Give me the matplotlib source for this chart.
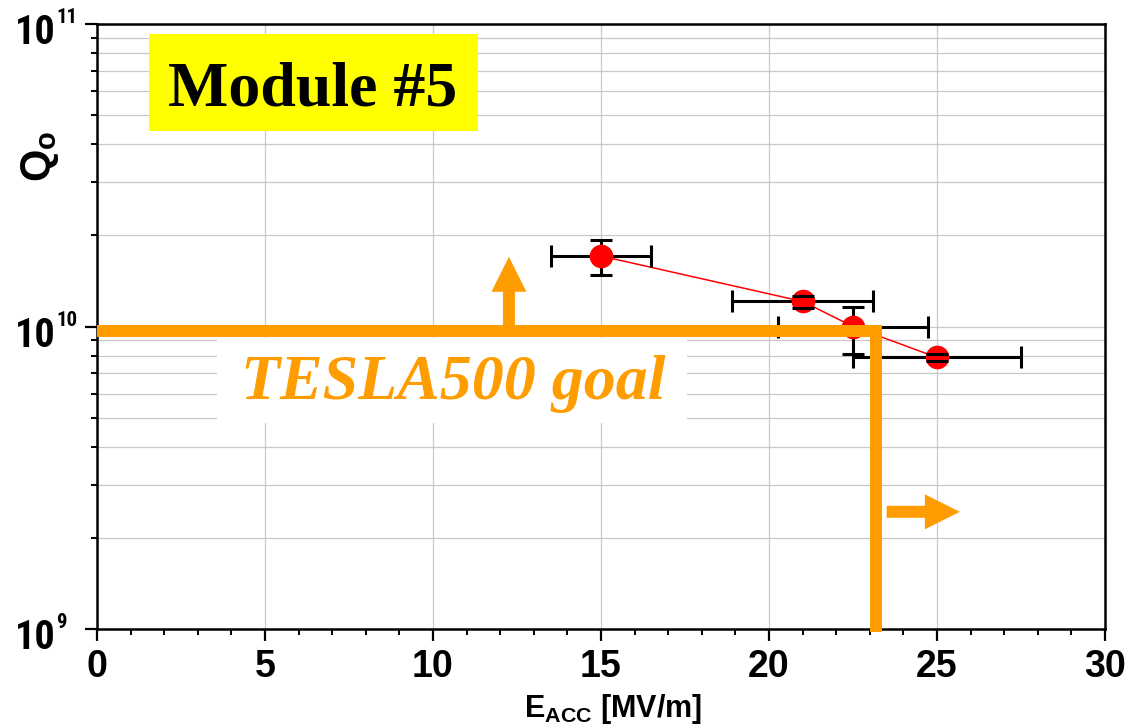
import matplotlib
matplotlib.use("Agg")
import matplotlib.pyplot as plt
from matplotlib import font_manager
from matplotlib.ticker import LogLocator, MultipleLocator, NullFormatter, FixedLocator
from matplotlib.patches import Rectangle
from matplotlib.lines import Line2D

# ---------------- data ----------------
E_acc = [15.0, 21.0, 22.5, 25.0]
Q0 = [1.71e10, 1.21e10, 1.00e10, 7.9e9]
E_err = [1.5, 2.1, 2.23, 2.5]
Q_err_low = [0.23e10, 0.06e10, 0.19e10, 0.02e10]
Q_err_high = [0.22e10, 0.05e10, 0.16e10, 0.02e10]

goal_Q = 9.65e9          # TESLA500 goal line
goal_E = 23.18           # gradient goal line
up_arrow_E = 12.26
up_arrow_Q = [1.0e10, 1.70e10]
right_arrow_E = [23.5, 25.68]
right_arrow_Q = 2.44e9

x_ticks = [0, 5, 10, 15, 20, 25, 30]
y_decades = [1e9, 1e10, 1e11]
y_exponents = ["9", "10", "11"]

ORANGE = "#FF9C00"

names = {f.name for f in font_manager.fontManager.ttflist}
NARROW = "Liberation Sans"
for cand in ["Liberation Sans Narrow", "Arial Narrow", "Roboto Condensed"]:
    if cand in names:
        NARROW = cand
        break
SANS = "Liberation Sans"
plt.rcParams["font.family"] = [SANS, "DejaVu Sans"]
plt.rcParams["mathtext.fontset"] = "custom"
plt.rcParams["mathtext.rm"] = SANS + ":bold"
plt.rcParams["mathtext.bf"] = SANS + ":bold"

fig = plt.figure(figsize=(11.31, 7.26), dpi=100)
ax = fig.add_axes([97 / 1131, 97 / 726, 1008 / 1131, 605 / 726])

ax.set_xlim(0, 30)
ax.set_yscale("log")
ax.set_ylim(1e9, 1e11)

# ticks
ax.xaxis.set_major_locator(FixedLocator(x_ticks))
ax.xaxis.set_minor_locator(MultipleLocator(1))
ax.yaxis.set_major_locator(LogLocator(base=10))
ax.yaxis.set_minor_locator(LogLocator(base=10, subs=range(2, 10)))
ax.yaxis.set_major_formatter(NullFormatter())
ax.yaxis.set_minor_formatter(NullFormatter())
ax.tick_params(axis="both", which="major", direction="out", length=8.6, width=1.6)
ax.tick_params(axis="both", which="minor", direction="out", length=4.3, width=1.4)
ax.tick_params(axis="x", which="major", labelsize=27, pad=6)
ax.set_xticklabels([str(t) for t in x_ticks], fontweight="bold")
for s in ax.spines.values():
    s.set_linewidth(1.8)

# grid
ax.set_axisbelow(True)
ax.xaxis.grid(True, which="major", color="#c8c8c8", linewidth=0.9)
ax.yaxis.grid(True, which="both", color="#c8c8c8", linewidth=0.9)

# y tick labels 10^n
ytr = ax.get_yaxis_transform()
for v, e in zip(y_decades, y_exponents):
    ax.annotate("10", xy=(0, v), xycoords=ytr, xytext=(-30, -6.5), textcoords="offset points",
                ha="right", va="center", fontsize=29, fontweight="bold", family=[NARROW],
                annotation_clip=False)
    ax.annotate(e, xy=(0, v), xycoords=ytr, xytext=(-29.5, 4.5), textcoords="offset points",
                ha="left", va="center", fontsize=15, fontweight="bold", family=[NARROW],
                annotation_clip=False)

# axis labels
ax.text(0.512, -0.145, r"E$_{\mathbf{ACC}}$ [MV/m]", transform=ax.transAxes, ha="center",
        va="baseline", fontsize=22, fontweight="bold")
ax.text(-0.057, 0.781, r"Q$_{\mathbf{o}}$", transform=ax.transAxes, ha="center", va="center",
        rotation=90, fontsize=30, fontweight="bold")

# data
eb = ax.errorbar(E_acc, Q0, xerr=E_err, yerr=[Q_err_low, Q_err_high], fmt="none",
                 ecolor="black", elinewidth=2.2, capsize=8, capthick=2.2, zorder=3)
for cap in eb[1]:
    cap.set_zorder(5)
ax.plot(E_acc, Q0, color="red", linewidth=1.1, marker="o", markersize=16,
        markerfacecolor="red", markeredgecolor="red", zorder=4)

# goal lines
goal = Line2D([0, goal_E, goal_E], [goal_Q, goal_Q, 0.978e9], color=ORANGE, linewidth=8.6,
              solid_joinstyle="miter", solid_capstyle="butt", zorder=6, clip_on=False)
ax.add_line(goal)

arrow_style = "simple,head_length=1.4,head_width=1.4,tail_width=0.48"
ax.annotate("", xy=(up_arrow_E, up_arrow_Q[1]), xytext=(up_arrow_E, up_arrow_Q[0]),
            arrowprops=dict(arrowstyle=arrow_style, color=ORANGE, shrinkA=0, shrinkB=0,
                            mutation_scale=18, linewidth=0), zorder=6)
ax.annotate("", xy=(right_arrow_E[1], right_arrow_Q), xytext=(right_arrow_E[0], right_arrow_Q),
            arrowprops=dict(arrowstyle=arrow_style, color=ORANGE, shrinkA=0, shrinkB=0,
                            mutation_scale=18, linewidth=0), zorder=6)

# TESLA500 goal text with white box
ax.add_patch(Rectangle((0.119, 0.3405), 0.466, 0.1405, transform=ax.transAxes,
                       facecolor="white", edgecolor="none", zorder=2))
ax.text(0.353, 0.380, "TESLA500 goal", transform=ax.transAxes, ha="center", va="baseline",
        fontsize=46, fontweight="bold", fontstyle="italic", color=ORANGE,
        family=["Liberation Serif", "DejaVu Serif"], zorder=7)

# Module #5 label
ax.add_patch(Rectangle((0.0516, 0.823), 0.3264, 0.160, transform=ax.transAxes,
                       facecolor="#FFFF00", edgecolor="none", zorder=2))
ax.text(0.214, 0.8645, "Module #5", transform=ax.transAxes, ha="center", va="baseline",
        fontsize=46, fontweight="bold", color="black",
        family=["Liberation Serif", "DejaVu Serif"], zorder=7)

fig.savefig("out.png", dpi=100)
